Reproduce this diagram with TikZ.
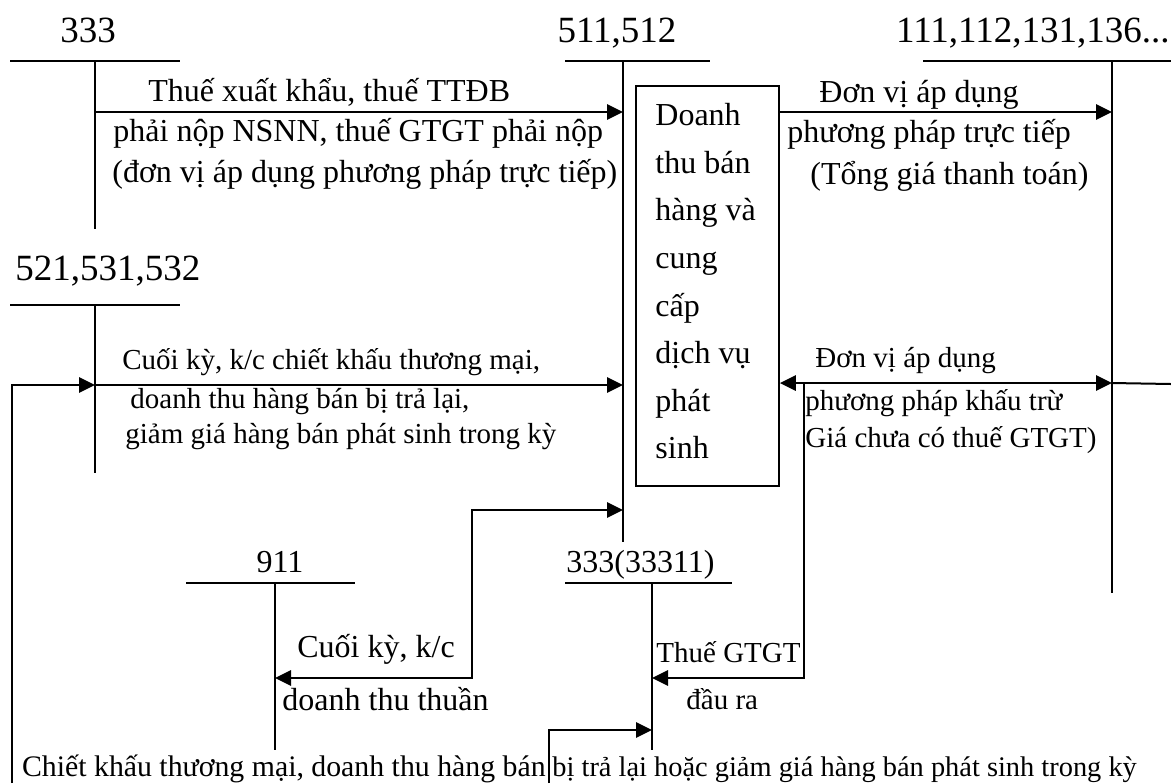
\documentclass[tikz,border=0pt]{standalone}
\usepackage{fontspec}
\setmainfont{Liberation Serif}
\usetikzlibrary{arrows.meta}

\tikzset{
  tacc/.style={line width=1pt},
  flow/.style={line width=1.4pt, -{Triangle[length=8pt,width=7.5pt]}},
  flowboth/.style={line width=1.4pt, {Triangle[length=8pt,width=7.5pt]}-{Triangle[length=8pt,width=7.5pt]}},
  txt/.style={anchor=base west, inner sep=0pt, font=\fontsize{16}{20}\selectfont},
  txts/.style={anchor=base west, inner sep=0pt, font=\fontsize{14.5}{18}\selectfont},
  acc/.style={anchor=base, inner sep=0pt, font=\fontsize{18.5}{22}\selectfont},
  lacc/.style={anchor=base, inner sep=0pt, font=\fontsize{16}{20}\selectfont},
}

\begin{document}
\begin{tikzpicture}[x=0.5pt,y=-0.5pt]
  \useasboundingbox (0,0) rectangle (1171,783);

  % T accounts
  \node[acc] (h333) at (88,42) {333};
  \draw[tacc] (10,61) -- (180,61) (95,61) -- (95,229);
  \node[acc] (h511) at (617,42) {511,512};
  \draw[tacc] (565,61) -- (710,61) (623,61) -- (623,542);
  \node[acc, anchor=base east] (h111) at (1170,42) {111,112,131,136...};
  \draw[tacc] (923,61) -- (1171,61) (1112,61) -- (1112,593);
  \node[acc, anchor=base west] (h521) at (15,280) {521,531,532};
  \draw[tacc] (10,305) -- (180,305) (95,305) -- (95,473);
  \node[lacc] (h911) at (280,572) {911};
  \draw[tacc] (186,583) -- (355,583) (275,583) -- (275,750);
  \node[lacc, anchor=base west] (h33311) at (566,572) {333(33311)};
  \draw[tacc] (565,583) -- (732,583) (652,583) -- (652,750);

  % ends of the flows
  \coordinate (tk333-a) at (95,112);
  \coordinate (tk511-a) at (623,112);
  \coordinate (tk521-a) at (95,385);
  \coordinate (tk511-b) at (623,385);
  \coordinate (tk511-c) at (623,510);
  \coordinate (tk111-a) at (1112,112);
  \coordinate (tk111-b) at (1112,383);
  \coordinate (tk911-a) at (275,678);
  \coordinate (tk33311-a) at (652,678);
  \coordinate (tk33311-b) at (652,730);
  \coordinate (vat) at (804,383);
  \coordinate (srcl) at (12,783);
  \coordinate (srcr) at (549,783);
  \coordinate (outr) at (1171,384);

  % revenue box
  \node[draw, line width=0.9pt, minimum width=71.5pt, minimum height=200pt,
    anchor=north west, inner sep=0pt] (dt) at (635,85) {};
  \node[anchor=north west, inner sep=0pt, align=left,
    font=\fontsize{16}{23.8}\selectfont] (dttext) at (655,103)
    {Doanh\\thu bán\\hàng và\\cung\\cấp\\dịch vụ\\phát\\sinh};

  % flows
  \draw[flow] (tk333-a) -- (tk511-a);
  \draw[flow] (dt.east |- tk111-a) -- (tk111-a);
  \draw[flow] (tk521-a) -- (tk511-b);
  \draw[flow] (srcl) |- (tk521-a);
  \draw[flowboth] (dt.east |- tk111-b) -- (tk111-b);
  \draw[tacc] (tk111-b) -- (outr);
  \draw[flow] (vat) |- (tk33311-a);
  \draw[flowboth] (tk511-c) -- ++(-151,0) |- (tk911-a);
  \draw[flow] (srcr) |- (tk33311-b);

  % labels
  \node[txt] (l1a) at (148,101) {Thuế xuất khẩu, thuế TTĐB};
  \node[txt] (l1b) at (113,141) {phải nộp NSNN, thuế GTGT phải nộp};
  \node[txt] (l1c) at (112,182) {(đơn vị áp dụng phương pháp trực tiếp)};
  \node[txt] (l2a) at (819,102) {Đơn vị áp dụng};
  \node[txt] (l2b) at (787,142) {phương pháp trực tiếp};
  \node[txt] (l2c) at (810,184) {(Tổng giá thanh toán)};
  \node[txts] (l3a) at (122,369) {Cuối kỳ, k/c chiết khấu thương mại,};
  \node[txts] (l3b) at (130,408) {doanh thu hàng bán bị trả lại,};
  \node[txts] (l3c) at (125,443) {giảm giá hàng bán phát sinh trong kỳ};
  \node[txts] (l4a) at (815,367) {Đơn vị áp dụng};
  \node[txts] (l4b) at (805,410) {phương pháp khấu trừ};
  \node[txts] (l4c) at (805,447) {Giá chưa có thuế GTGT)};
  \node[txt] (l5a) at (297,657) {Cuối kỳ, k/c};
  \node[txt] (l5b) at (282,710) {doanh thu thuần};
  \node[txts] (l6a) at (656,662) {Thuế GTGT};
  \node[txts] (l6b) at (686,709) {đầu ra};
  \node[txts, anchor=base east, font=\fontsize{14.9}{18}\selectfont] (l7a) at (546,776) {Chiết khấu thương mại, doanh thu hàng bán};
  \node[txts, font=\fontsize{14.2}{18}\selectfont] (l7b) at (552,776) {bị trả lại hoặc giảm giá hàng bán phát sinh trong kỳ};
\end{tikzpicture}
\end{document}
